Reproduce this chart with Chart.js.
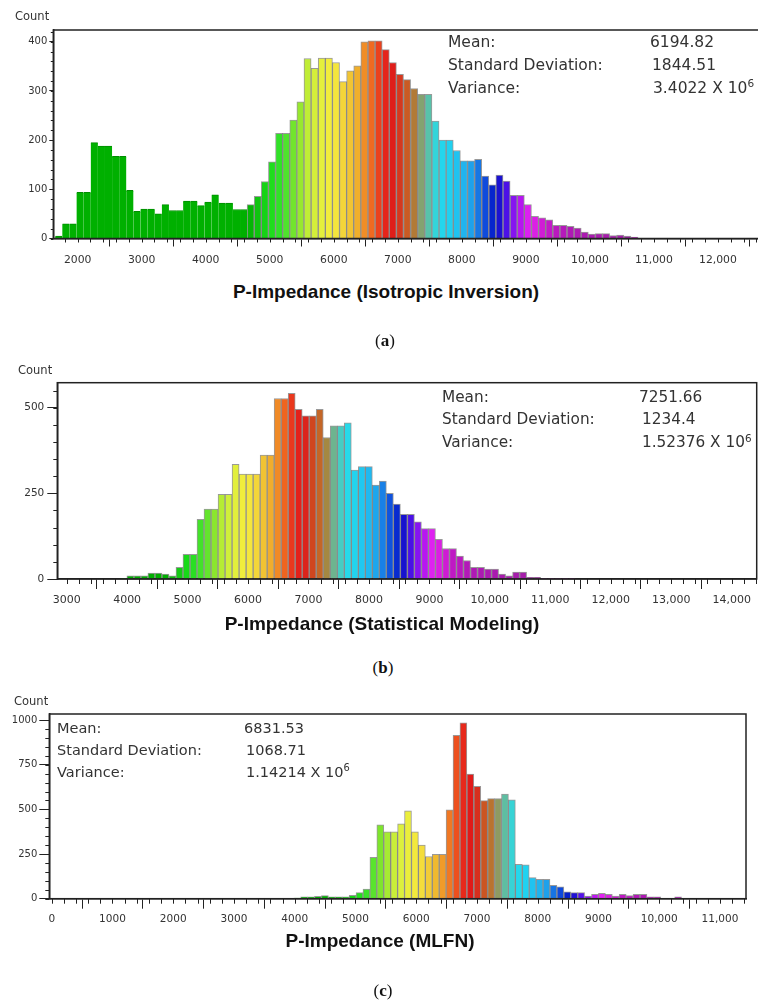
<!DOCTYPE html>
<html>
<head>
<meta charset="utf-8">
<script src="https://cdn.jsdelivr.net/npm/chart.js@4.4.0/dist/chart.umd.min.js"></script>
<style>
    body { margin: 0; width: 758px; height: 1008px; overflow: hidden; background: #fff; position: relative; }
    canvas { position: absolute; left: 0; }
    .t { position: absolute; white-space: nowrap; line-height: 1; transform: translateY(-50%); color: #333; font-family: "DejaVu Sans", sans-serif; }
    .c { transform: translate(-50%, -50%); }
    .count { font-size: 11.5px; color: #333; }
    .title { font-family: "Liberation Sans", Arial, sans-serif; font-weight: bold; font-size: 19px; color: #111; }
    .cap { font-family: "Liberation Serif", "DejaVu Serif", serif; font-size: 17px; color: #111; }
    sup { font-size: 0.68em; vertical-align: 0.55em; line-height: 0; }
</style>
</head>
<body>
<canvas id="chartA" width="800" height="280" style="top:0"></canvas>
<canvas id="chartB" width="758" height="280" style="top:340px"></canvas>
<canvas id="chartC" width="758" height="250" style="top:690px"></canvas>

<!-- panel (a) -->
<div class="t count" style="left:15px;top:17px">Count</div>
<div class="t" style="left:448px;top:43px;font-size:15.5px">Mean:</div>
<div class="t" style="left:448px;top:66px;font-size:15.5px">Standard Deviation:</div>
<div class="t" style="left:448px;top:89px;font-size:15.5px">Variance:</div>
<div class="t" style="left:650px;top:43px;font-size:15.5px">6194.82</div>
<div class="t" style="left:652px;top:66px;font-size:15.5px">1844.51</div>
<div class="t" style="left:653px;top:89px;font-size:15.5px">3.4022 X 10<sup>6</sup></div>
<div class="t c title" style="left:386px;top:291px">P-Impedance (Isotropic Inversion)</div>
<div class="t c cap" style="left:385px;top:340px">(<b>a</b>)</div>

<!-- panel (b) -->
<div class="t count" style="left:18px;top:371px">Count</div>
<div class="t" style="left:442px;top:398px;font-size:15.3px">Mean:</div>
<div class="t" style="left:442px;top:420px;font-size:15.3px">Standard Deviation:</div>
<div class="t" style="left:442px;top:443px;font-size:15.3px">Variance:</div>
<div class="t" style="left:639px;top:398px;font-size:15.3px">7251.66</div>
<div class="t" style="left:642px;top:420px;font-size:15.3px">1234.4</div>
<div class="t" style="left:642px;top:443px;font-size:15.3px">1.52376 X 10<sup>6</sup></div>
<div class="t c title" style="left:382px;top:623px">P-Impedance (Statistical Modeling)</div>
<div class="t c cap" style="left:383px;top:667px">(<b>b</b>)</div>

<!-- panel (c) -->
<div class="t count" style="left:14px;top:702px">Count</div>
<div class="t" style="left:57px;top:728px;font-size:14.5px">Mean:</div>
<div class="t" style="left:57px;top:750px;font-size:14.5px">Standard Deviation:</div>
<div class="t" style="left:57px;top:772px;font-size:14.5px">Variance:</div>
<div class="t" style="left:244px;top:728px;font-size:14.5px">6831.53</div>
<div class="t" style="left:246px;top:750px;font-size:14.5px">1068.71</div>
<div class="t" style="left:246px;top:772px;font-size:14.5px">1.14214 X 10<sup>6</sup></div>
<div class="t c title" style="left:380px;top:940px">P-Impedance (MLFN)</div>
<div class="t c cap" style="left:383px;top:990px">(<b>c</b>)</div>

<script>
// (a) isotropic inversion: bins of ~111 starting at 1650
const binStartA = 1650;
const binWidthA = 111;
const countsA = [5, 30, 30, 94, 94, 195, 188, 188, 167, 167, 98, 55, 60, 60, 50, 69, 57, 57, 76, 76,
    67, 74, 89, 72, 72, 59, 59, 69, 86, 116, 156, 214, 214, 241, 278, 366, 346, 367, 367, 358,
    319, 341, 351, 400, 402, 402, 384, 358, 334, 323, 305, 293, 293, 239, 200, 200, 179, 158, 158, 161,
    127, 109, 129, 117, 88, 88, 69, 45, 42, 38, 27, 27, 25, 21, 13, 9, 10, 10, 6, 7, 5, 3];
const xTicksA = [2000, 3000, 4000, 5000, 6000, 7000, 8000, 9000, 10000, 11000, 12000];
const yTicksA = [0, 100, 200, 300, 400];

// (b) statistical modeling
const binStartB = 3880;
const binWidthB = 116;
const countsB = [2, 9, 9, 9, 17, 17, 14, 9, 34, 72, 72, 174, 204, 204, 247, 247, 335, 306, 306, 306,
    362, 362, 527, 527, 542, 495, 476, 476, 495, 413, 447, 447, 456, 318, 328, 328, 274, 286, 250, 219,
    189, 189, 167, 147, 147, 116, 89, 89, 67, 54, 34, 34, 29, 29, 14, 9, 20, 20, 5, 5, 2, 2, 2, 2, 2];
const xTicksB = [3000, 4000, 5000, 6000, 7000, 8000, 9000, 10000, 11000, 12000, 13000, 14000];
const yTicksB = [0, 250, 500];

// (c) MLFN
const binStartC = 3300;
const binWidthC = 114;
const countsC = [1, 0, 2, 2, 2, 2, 4, 11, 11, 13, 17, 11, 11, 11, 19, 34, 54, 232, 414, 375,
    375, 419, 492, 375, 300, 236, 249, 249, 498, 914, 985, 698, 629, 549, 560, 560, 586, 554, 193, 189,
    118, 109, 109, 75, 67, 39, 34, 34, 15, 24, 30, 24, 15, 24, 17, 24, 24, 11, 11, 2, 0, 11, 2];
const xTicksC = [0, 1000, 2000, 3000, 4000, 5000, 6000, 7000, 8000, 9000, 10000, 11000];
const yTicksC = [0, 250, 500, 750, 1000];

// colour scale keyed on impedance value (same for all three panels)
const ramp = [
    [4650, 0, 176, 0], [4850, 20, 200, 20], [5000, 25, 220, 25], [5150, 50, 225, 40],
    [5300, 90, 228, 45], [5450, 140, 230, 45], [5600, 195, 238, 55], [5750, 220, 240, 60],
    [5900, 240, 238, 60], [6050, 245, 228, 60], [6200, 242, 205, 55], [6350, 240, 180, 45],
    [6450, 240, 150, 40], [6550, 240, 120, 35], [6650, 238, 85, 30], [6750, 232, 45, 28],
    [6900, 225, 25, 25], [7000, 215, 45, 30], [7100, 205, 80, 32], [7200, 195, 105, 40],
    [7300, 165, 135, 65], [7400, 115, 175, 135], [7500, 80, 200, 180], [7620, 40, 218, 232],
    [7800, 32, 210, 240], [8000, 32, 185, 240], [8150, 30, 160, 235], [8300, 20, 100, 225],
    [8420, 10, 55, 215], [8530, 5, 20, 195], [8650, 50, 15, 225], [8780, 120, 20, 240],
    [8900, 175, 20, 240], [9050, 225, 35, 240], [9200, 215, 30, 220], [9400, 190, 25, 195],
    [9700, 175, 25, 180], [10500, 165, 30, 170]
];

function rampColor(v) {
    if (v <= ramp[0][0]) return `rgb(${ramp[0][1]},${ramp[0][2]},${ramp[0][3]})`;
    for (let i = 1; i < ramp.length; i++) {
        if (v <= ramp[i][0]) {
            const a = ramp[i - 1], b = ramp[i];
            const f = (v - a[0]) / (b[0] - a[0]);
            const c = [1, 2, 3].map(k => Math.round(a[k] + (b[k] - a[k]) * f));
            return `rgb(${c[0]},${c[1]},${c[2]})`;
        }
    }
    const l = ramp[ramp.length - 1];
    return `rgb(${l[1]},${l[2]},${l[3]})`;
}

function fmt(v) {
    return v >= 10000 ? v.toLocaleString("en-US") : String(v);
}

// minor ticks and the closed frame round the plot
const frame = {
    id: "frame",
    afterDraw(chart, args, o) {
        const { ctx, chartArea: a, scales: { x, y } } = chart;
        ctx.save();
        ctx.strokeStyle = "#222";
        ctx.lineWidth = 1;
        ctx.beginPath();
        for (let v = Math.ceil(x.min / o.xStep) * o.xStep; v <= x.max; v += o.xStep) {
            const px = Math.round(x.getPixelForValue(v)) + 0.5;
            ctx.moveTo(px, a.bottom);
            ctx.lineTo(px, a.bottom + o.xLen);
        }
        for (let v = 0; v <= y.max; v += o.yStep) {
            const py = Math.round(y.getPixelForValue(v)) + 0.5;
            ctx.moveTo(a.left, py);
            ctx.lineTo(a.left - o.yLen, py);
        }
        ctx.stroke();
        ctx.lineWidth = 1.5;
        ctx.strokeRect(a.left, a.top, a.right - a.left, a.bottom - a.top);
        ctx.restore();
    }
};

Chart.defaults.font.family = '"DejaVu Sans", sans-serif';
Chart.defaults.color = "#333";

function makeChart(id, p) {
    const xs = p.counts.map((c, i) => p.start + (i + 0.5) * p.width);
    const fills = xs.map(v => rampColor(v));
    return new Chart(document.getElementById(id), {
        type: "bar",
        data: {
            datasets: [{
                data: p.counts.map((c, i) => ({ x: xs[i], y: c })),
                backgroundColor: fills,
                borderColor: xs.map(v => (p.flatGreen && v < 4650) ? "rgb(0,140,0)" : "rgba(85,85,85,0.6)"),
                borderWidth: xs.map(v => (p.flatGreen && v < 4650) ? { top: 1, left: 0, right: 0, bottom: 0 } : 1),
                borderSkipped: "bottom",
                barPercentage: 1,
                categoryPercentage: 1,
            }],
        },
        options: {
            responsive: false,
            animation: false,
            layout: { padding: p.pad },
            plugins: {
                legend: { display: false },
                tooltip: { enabled: false },
                frame: p.minor,
            },
            scales: {
                x: {
                    type: "linear",
                    min: p.xMin,
                    max: p.xMax,
                    offset: false,
                    afterFit: (s) => { s.height = p.xH; },
                    afterBuildTicks: (s) => { s.ticks = p.xTicks.map(v => ({ value: v })); },
                    grid: { drawOnChartArea: false, tickLength: p.xTickLen, color: "#222" },
                    border: { display: true, color: "#222", width: 1.5 },
                    ticks: {
                        autoSkip: false,
                        maxRotation: 0,
                        padding: p.xPad,
                        font: { size: p.xFont },
                        callback: (v) => fmt(v),
                    },
                },
                y: {
                    min: 0,
                    max: p.yMax,
                    afterFit: (s) => { s.width = p.yW; },
                    afterBuildTicks: (s) => { s.ticks = p.yTicks.map(v => ({ value: v })); },
                    grid: { drawOnChartArea: false, tickLength: p.yTickLen, color: "#222" },
                    border: { display: true, color: "#222", width: 1.5 },
                    ticks: { padding: p.yPad, font: { size: p.yFont }, callback: (v) => String(v) },
                },
            },
        },
        plugins: [frame],
    });
}

makeChart("chartA", {
    counts: countsA, start: binStartA, width: binWidthA, flatGreen: true,
    xMin: 1620, xMax: 13000, xTicks: xTicksA, yMax: 424, yTicks: yTicksA,
    pad: { top: 30, left: 0, right: 18, bottom: 0 },
    xH: 41.5, yW: 53.3,
    xTickLen: 8, xPad: 7, xFont: 10.8,
    yTickLen: 4, yPad: 2, yFont: 10,
    minor: { xStep: 200, xLen: 4, yStep: 20, yLen: 2.5 },
});

makeChart("chartB", {
    counts: countsB, start: binStartB, width: binWidthB, flatGreen: false,
    xMin: 2845, xMax: 14414, xTicks: xTicksB, yMax: 573, yTicks: yTicksB,
    pad: { top: 42.7, left: 0, right: 1.3, bottom: 0 },
    xH: 41, yW: 57.3,
    xTickLen: 10, xPad: 5, xFont: 11,
    yTickLen: 10, yPad: 3, yFont: 10.5,
    minor: { xStep: 200, xLen: 5, yStep: 50, yLen: 4 },
});

makeChart("chartC", {
    counts: countsC, start: binStartC, width: binWidthC, flatGreen: false,
    xMin: -40, xMax: 11429, xTicks: xTicksC, yMax: 1034, yTicks: yTicksC,
    pad: { top: 24, left: 0, right: 12, bottom: 0 },
    xH: 41.3, yW: 49.3,
    xTickLen: 10, xPad: 4, xFont: 10.5,
    yTickLen: 10, yPad: 2, yFont: 10,
    minor: { xStep: 200, xLen: 5, yStep: 50, yLen: 4 },
});
</script>
</body>
</html>
